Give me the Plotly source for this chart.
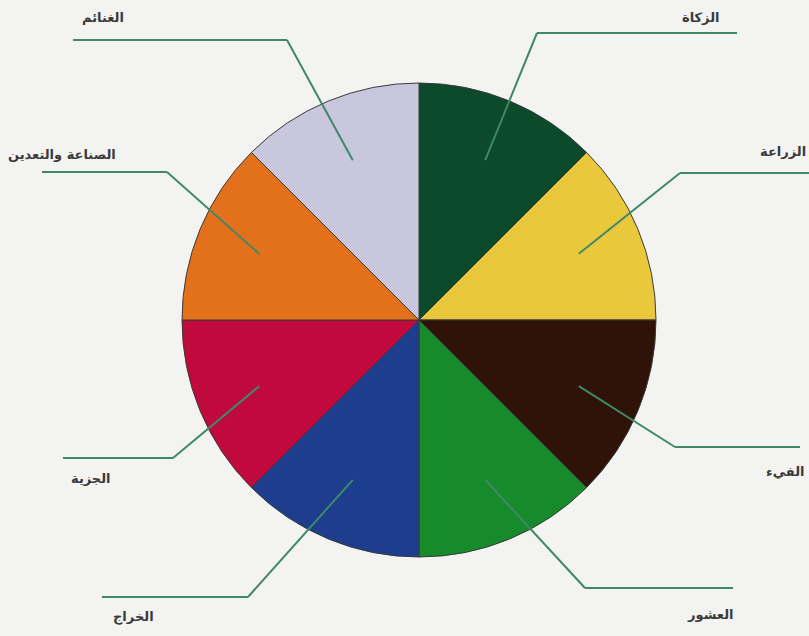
import math
import plotly.graph_objects as go

# ---- data ----
labels = ["الزكاة", "الزراعة", "الفيء", "العشور", "الخراج", "الجزية", "الصناعة والتعدين", "الغنائم"]
values = [1, 1, 1, 1, 1, 1, 1, 1]
colors = ["#0b4b2b", "#e9c83c", "#2f1309", "#178b2b", "#1f3d8d", "#c0093d", "#e3711b", "#c9c7dd"]

# ---- layout constants (pixels) ----
W, H = 809, 636
CX, CY, R = 419, 320, 237
leader_elbows = [(537, 33), (680, 173), (675, 447), (585, 588), (248, 597), (173, 458), (167, 172), (287, 40)]
leader_ends = [737, 809, 800, 733, 102, 63, 42, 73]
# (x, y, xanchor)
label_pos = [(701, 17, "center"), (808, 152, "right"), (807, 472, "right"), (710, 614, "center"),
             (133, 617, "center"), (91, 478, "center"), (6, 154, "left"), (103, 18, "center")]

def px(x):
    return x / W

def py(y):
    return 1 - y / H

fig = go.Figure(go.Pie(
    labels=labels, values=values, sort=False, direction="clockwise", rotation=0,
    marker=dict(colors=colors, line=dict(color="#3a3a3a", width=1)),
    textinfo="none", hoverinfo="label",
    domain=dict(x=[px(CX - R), px(CX + R)], y=[py(CY + R), py(CY - R)]),
    showlegend=False,
))

shapes = []
annotations = []
total = sum(values)
cum = 0
for i, lab in enumerate(labels):
    mid = 90 - (cum + values[i] / 2) / total * 360
    cum += values[i]
    a = math.radians(mid)
    sx = CX + 0.73 * R * math.cos(a)
    sy = CY - 0.73 * R * math.sin(a)
    ex, ey = leader_elbows[i]
    hx = leader_ends[i]
    lc = "#3f8868"
    shapes.append(dict(type="line", xref="paper", yref="paper",
                       x0=px(sx), y0=py(sy), x1=px(ex), y1=py(ey),
                       line=dict(color=lc, width=2)))
    shapes.append(dict(type="line", xref="paper", yref="paper",
                       x0=px(ex), y0=py(ey), x1=px(hx), y1=py(ey),
                       line=dict(color=lc, width=2)))
    lx, ly, anc = label_pos[i]
    annotations.append(dict(text="<b>" + lab + "</b>", xref="paper", yref="paper",
                            x=px(lx), y=py(ly), xanchor=anc, yanchor="middle",
                            showarrow=False,
                            font=dict(family="DejaVu Sans", size=13, color="#3a3a3a")))

fig.update_layout(
    width=W, height=H,
    margin=dict(l=0, r=0, t=0, b=0),
    paper_bgcolor="#f3f3f2",
    plot_bgcolor="#f3f3f2",
    shapes=shapes,
    annotations=annotations,
)

fig.write_html("out.html", config={"displayModeBar": False},
               post_script="document.body.style.margin='0';document.body.style.overflow='hidden';")
